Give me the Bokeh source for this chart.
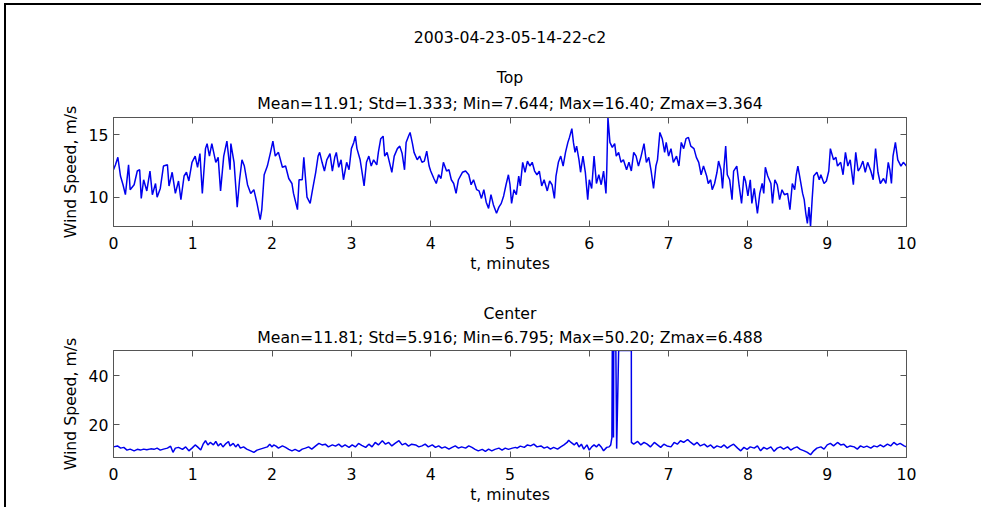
from bokeh.plotting import figure
from bokeh.models import Range1d, FixedTicker, LinearAxis, Title, ColumnDataSource, Spacer
from bokeh.layouts import column, row
from bokeh.embed import file_html
from bokeh.resources import INLINE

# ---------------- data ----------------
main_title = "2003-04-23-05-14-22-c2"
top_title = "Top"
top_stats = "Mean=11.91; Std=1.333; Min=7.644; Max=16.40; Zmax=3.364"
ctr_title = "Center"
ctr_stats = "Mean=11.81; Std=5.916; Min=6.795; Max=50.20; Zmax=6.488"
x_label = "t, minutes"
y_label = "Wind Speed, m/s"
x_ticks = [0, 1, 2, 3, 4, 5, 6, 7, 8, 9, 10]
top_yticks = [10, 15]
ctr_yticks = [20, 40]
top_yrange = [7.644, 16.40]
ctr_yrange = [6.795, 50.20]

top_t = [0.00, 0.025, 0.055, 0.088, 0.12, 0.15, 0.19, 0.21, 0.26, 0.30, 0.33, 0.35, 0.38, 0.42, 0.46, 0.49,
         0.53, 0.55, 0.59, 0.63, 0.68, 0.70, 0.74, 0.78, 0.82, 0.85, 0.89, 0.92, 0.95, 0.99, 1.03, 1.06,
         1.09, 1.12, 1.16, 1.18, 1.21, 1.24, 1.29, 1.32, 1.35, 1.39, 1.43, 1.47, 1.48, 1.52, 1.56, 1.59,
         1.62, 1.65, 1.69, 1.73, 1.77, 1.81, 1.85, 1.87, 1.90, 1.94, 1.98, 2.01, 2.04, 2.08, 2.13, 2.17,
         2.21, 2.25, 2.27, 2.32, 2.34, 2.38, 2.40, 2.44, 2.48, 2.51,
         2.55, 2.58, 2.60, 2.63, 2.66, 2.69, 2.73, 2.76, 2.79, 2.81, 2.84, 2.87, 2.90, 2.94, 2.97, 3.00,
         3.03, 3.05, 3.07, 3.11, 3.13, 3.16, 3.19, 3.22, 3.25, 3.28, 3.32, 3.34, 3.37, 3.40, 3.42, 3.45,
         3.48, 3.51, 3.54, 3.58, 3.61, 3.64, 3.67, 3.69, 3.72, 3.74, 3.77, 3.79, 3.83, 3.86, 3.89, 3.92,
         3.95, 3.98, 4.00, 4.04, 4.07, 4.10, 4.13, 4.16, 4.20, 4.23, 4.26, 4.29, 4.32, 4.35, 4.40, 4.44,
         4.48, 4.51, 4.54, 4.58, 4.61, 4.64, 4.67, 4.70, 4.73, 4.76, 4.79, 4.83, 4.86, 4.89, 4.92, 4.95, 4.98,
         5.00, 5.02, 5.05, 5.08, 5.11, 5.13, 5.16, 5.19, 5.22, 5.25, 5.28, 5.31, 5.34, 5.37, 5.40, 5.43,
         5.47, 5.50, 5.53, 5.56, 5.58, 5.61, 5.64, 5.67, 5.70, 5.73, 5.75, 5.78, 5.80, 5.82, 5.84, 5.87,
         5.89, 5.92, 5.95, 5.98, 6.00, 6.03, 6.06, 6.09, 6.12, 6.15, 6.18, 6.21, 6.22, 6.235, 6.26, 6.29,
         6.32, 6.34, 6.37, 6.40, 6.43, 6.47, 6.50, 6.53, 6.56, 6.59, 6.62, 6.65, 6.69, 6.72, 6.75, 6.78,
         6.81, 6.84, 6.86, 6.89, 6.92, 6.95, 6.97, 7.00, 7.03, 7.06, 7.10, 7.13, 7.16, 7.19, 7.22, 7.25,
         7.28, 7.32, 7.35, 7.38, 7.41, 7.44, 7.48, 7.50,
         7.53, 7.55, 7.58, 7.61, 7.63, 7.66, 7.68, 7.70, 7.72, 7.74, 7.77, 7.80, 7.82, 7.86, 7.89, 7.92,
         7.95, 7.97, 8.00, 8.03, 8.05, 8.08, 8.12, 8.15, 8.18, 8.20, 8.22, 8.25, 8.29, 8.31, 8.34, 8.37,
         8.40, 8.43, 8.46, 8.50, 8.53, 8.56, 8.59, 8.61, 8.63, 8.66, 8.69, 8.71, 8.73, 8.75, 8.77, 8.79,
         8.81, 8.83, 8.87, 8.90, 8.92, 8.96, 8.99, 9.02, 9.04, 9.08, 9.11, 9.13, 9.17, 9.20, 9.23, 9.26,
         9.29, 9.33, 9.36, 9.39, 9.42, 9.45, 9.48, 9.51, 9.55, 9.58, 9.61, 9.64, 9.67, 9.71, 9.74, 9.77,
         9.79, 9.81, 9.83, 9.86, 9.89, 9.93, 9.96, 10.00]
top_v = [12.2, 12.6, 13.2, 11.7, 11.0, 10.2, 12.6, 10.6, 11.0, 12.1, 12.2, 9.9, 11.4, 10.5, 12.1, 10.2,
         11.1, 10.0, 10.7, 12.5, 12.6, 10.9, 12.0, 10.3, 11.3, 9.8, 11.7, 12.0, 11.3, 12.8, 13.3, 12.4,
         13.5, 10.3, 13.9, 14.3, 13.3, 14.3, 12.8, 13.2, 10.5, 13.3, 14.5, 12.2, 14.3, 12.8, 9.2, 11.4,
         13.0, 12.5, 11.0, 10.3, 10.6, 9.5, 8.2, 9.0, 11.8, 12.5, 13.6, 14.5, 13.3, 13.6, 12.4, 12.5,
         11.5, 11.1, 10.3, 9.0, 11.4, 11.4, 13.2, 10.0, 9.5, 10.6,
         12.0, 13.3, 13.6, 12.8, 12.1, 13.0, 13.5, 12.1, 13.2, 13.6, 12.4, 13.0, 11.4, 12.8, 12.2, 13.9,
         14.4, 14.9, 13.9, 13.0, 12.2, 10.9, 12.8, 13.3, 12.5, 13.0, 12.6, 13.6, 14.7, 14.9, 13.3, 13.6,
         12.8, 12.0, 13.3, 13.9, 14.1, 13.5, 12.2, 14.4, 14.9, 15.2, 14.3, 13.6, 13.0, 13.3, 12.8, 12.9,
         13.7, 12.5, 12.1, 11.5, 11.1, 11.8, 11.5, 12.8, 12.1, 12.2, 11.4, 11.1, 10.3, 11.4, 12.0, 12.1,
         11.8, 11.0, 11.4, 10.6, 10.5, 9.9, 10.6, 9.6, 9.1, 10.2, 9.4, 8.7, 9.2, 9.5, 10.1, 11.0, 11.8,
         11.0, 9.5, 10.6, 10.2, 11.7, 10.9, 12.8, 12.0, 12.9, 12.5, 12.8, 12.1, 11.8, 12.1, 10.9, 11.4,
         10.5, 11.3, 11.0, 9.9, 11.7, 12.8, 13.3, 12.5, 13.6, 14.4, 14.8, 15.5, 14.4, 13.6, 14.1, 13.0,
         12.0, 13.3, 12.0, 9.8, 11.4, 10.7, 13.3, 11.1, 11.8, 11.0, 12.1, 10.3, 12.1, 16.40, 14.4, 14.0,
         14.3, 13.3, 13.6, 12.8, 13.0, 12.2, 12.8, 12.1, 13.6, 13.3, 12.5, 13.2, 14.3, 12.8, 13.2, 12.1,
         10.7, 12.5, 13.0, 15.2, 14.7, 13.6, 14.4, 13.3, 13.9, 12.8, 13.3, 12.5, 14.4, 13.9, 14.7, 14.8,
         14.1, 13.9, 13.2, 12.8, 11.8, 12.5, 11.7, 11.1,
         11.4, 10.6, 11.1, 12.0, 12.9, 12.2, 10.7, 12.5, 14.1, 11.8, 11.4, 9.8, 12.1, 12.5, 10.9, 9.5,
         11.7, 11.3, 10.1, 11.4, 9.5, 10.7, 8.7, 10.3, 11.1, 10.3, 12.4, 11.7, 11.1, 9.5, 11.4, 11.0,
         9.8, 10.6, 10.2, 10.3, 9.0, 11.1, 10.6, 11.8, 12.5, 11.4, 10.3, 9.8, 8.7, 7.9, 9.2, 7.644,
         9.8, 11.7, 12.0, 11.4, 11.8, 11.1, 11.3, 12.1, 13.9, 13.0, 13.2, 12.5, 12.8, 11.8, 13.6, 12.5,
         13.0, 11.0, 13.6, 12.1, 12.4, 12.9, 12.0, 12.8, 12.1, 11.4, 13.9, 12.0, 11.1, 11.5, 11.1, 12.8,
         12.2, 11.1, 13.3, 14.4, 13.0, 12.5, 12.8, 12.5]

ctr_t = [0.00, 0.05, 0.09, 0.13, 0.17, 0.21, 0.26, 0.30, 0.34, 0.38, 0.42, 0.47, 0.51, 0.55, 0.59, 0.63,
         0.68, 0.72, 0.75, 0.78, 0.82, 0.87, 0.91, 0.95, 0.99, 1.03, 1.06, 1.10, 1.13, 1.16, 1.19, 1.22,
         1.26, 1.29, 1.32, 1.35, 1.38, 1.41, 1.45, 1.47, 1.51, 1.54, 1.57, 1.60, 1.64, 1.68, 1.73, 1.77,
         1.81, 1.85, 1.89, 1.94, 1.97, 2.00, 2.02, 2.05, 2.08, 2.13, 2.17, 2.21, 2.25, 2.29, 2.34, 2.38,
         2.42, 2.46, 2.50, 2.55, 2.59, 2.63, 2.67, 2.71, 2.76, 2.80, 2.84, 2.88, 2.92, 2.97, 3.01, 3.05,
         3.09, 3.13, 3.18, 3.22, 3.26, 3.30, 3.34, 3.39, 3.43, 3.47, 3.51, 3.55, 3.60, 3.64, 3.68, 3.72,
         3.76, 3.81, 3.85, 3.89, 3.93, 3.97, 4.02, 4.06, 4.10, 4.14, 4.18, 4.23, 4.27, 4.31, 4.35, 4.39,
         4.44, 4.48, 4.52, 4.56, 4.60, 4.65, 4.69, 4.73, 4.77, 4.81, 4.86, 4.90, 4.94, 4.98, 5.03, 5.07,
         5.09, 5.13, 5.18, 5.22, 5.26, 5.30, 5.34, 5.39, 5.43, 5.47, 5.51, 5.55, 5.60, 5.64, 5.68, 5.72,
         5.74, 5.77, 5.81, 5.84, 5.87, 5.90, 5.93, 5.97, 6.00, 6.03, 6.06, 6.09, 6.12, 6.15, 6.18, 6.22,
         6.25, 6.27, 6.285, 6.29, 6.30, 6.305, 6.308, 6.335, 6.345, 6.37, 6.53, 6.531,
         6.56, 6.61, 6.65, 6.69, 6.73, 6.77, 6.82, 6.86, 6.90, 6.94, 6.98, 7.03, 7.07, 7.11, 7.15, 7.19,
         7.24, 7.28, 7.32, 7.36, 7.40, 7.45, 7.49, 7.53, 7.57, 7.61, 7.66, 7.70, 7.74, 7.78, 7.82, 7.87,
         7.91, 7.95, 7.99, 8.03, 8.08, 8.12, 8.16, 8.20, 8.24, 8.29, 8.33, 8.37, 8.41, 8.45, 8.50, 8.54,
         8.58, 8.62, 8.66, 8.71, 8.75, 8.79, 8.83, 8.87, 8.92, 8.96, 9.00, 9.04, 9.08, 9.13, 9.17, 9.21,
         9.25, 9.29, 9.34, 9.38, 9.42, 9.46, 9.50, 9.55, 9.59, 9.63, 9.67, 9.71, 9.76, 9.80, 9.84, 9.88,
         9.92, 9.97, 10.00]
ctr_v = [11.1, 11.5, 10.6, 10.9, 9.8, 10.2, 9.5, 10.1, 9.8, 10.2, 9.9, 10.3, 10.1, 10.6, 9.8, 10.2,
         10.6, 11.4, 8.9, 10.6, 10.9, 10.1, 11.1, 9.5, 10.6, 11.9, 11.1, 9.8, 12.2, 13.6, 11.9, 12.9,
         11.9, 13.3, 11.5, 12.5, 11.1, 12.2, 13.3, 11.5, 12.5, 11.1, 12.2, 10.6, 11.1, 10.2, 9.5, 8.9,
         9.8, 10.2, 10.6, 11.1, 12.2, 11.1, 11.9, 11.4, 10.6, 11.5, 10.9, 10.1, 9.5, 10.1, 9.3, 10.2,
         10.6, 11.1, 10.2, 11.5, 12.5, 11.9, 12.2, 11.1, 11.9, 11.4, 12.2, 11.1, 11.9, 10.9, 11.9, 11.1,
         12.5, 11.7, 10.9, 12.2, 11.1, 12.9, 11.9, 13.6, 12.2, 12.9, 11.5, 12.5, 13.6, 11.9, 12.5, 11.4,
         12.2, 11.9, 11.1, 11.5, 12.2, 11.1, 11.9, 10.9, 11.5, 10.6, 11.1, 10.2, 10.9, 11.5, 10.6, 11.1,
         10.6, 11.5, 10.9, 10.1, 9.5, 10.1, 9.3, 10.2, 9.5, 10.1, 10.6, 9.8, 10.6, 10.1, 10.6, 10.9,
         10.6, 11.4, 10.9, 11.9, 11.5, 12.2, 11.1, 11.5, 10.6, 11.1, 10.2, 10.9, 10.2, 11.1, 11.9, 12.9,
         13.8, 12.9, 11.9, 12.9, 11.1, 12.2, 10.2, 11.9, 9.8, 11.1, 11.9, 11.1, 12.2, 11.1, 9.5, 10.9,
         11.1, 11.9, 14.9, 50.2, 50.2, 14.9, 50.2, 50.2, 10.4, 50.2, 50.2, 12.9,
         12.2, 13.3, 11.9, 12.9, 12.2, 11.1, 12.9, 11.9, 10.9, 12.2, 11.5, 11.1, 12.9, 12.2, 13.6, 12.9,
         14.1, 12.9, 11.9, 12.9, 11.5, 12.2, 11.1, 11.9, 10.6, 11.5, 10.9, 11.9, 10.6, 11.5, 12.2, 10.6,
         9.5, 10.9, 10.1, 11.1, 10.6, 11.5, 9.5, 10.9, 10.2, 11.1, 9.3, 10.6, 11.1, 10.2, 11.1, 9.8,
         10.6, 11.1, 10.1, 9.5, 8.9, 7.9, 9.5, 10.6, 11.1, 10.2, 11.9, 12.5, 11.5, 12.9, 11.9, 12.2,
         10.9, 11.5, 11.1, 10.2, 11.5, 10.9, 11.4, 10.6, 11.5, 11.1, 11.9, 11.1, 12.2, 11.5, 12.9, 11.9,
         12.5, 11.5, 11.1]

# ---------------- styling ----------------
FONT = "DejaVu Sans"
FS = "15.7px"
AX = "#555555"
LINE = "#0000ee"
CW = 975           # width of the plot column (window x 6..981)
RB = 75            # right border so that the frame ends at window x 906


def style_axis(ax):
    ax.axis_line_color = AX
    ax.major_tick_line_color = AX
    ax.minor_tick_line_color = AX
    ax.major_tick_in = 6
    ax.major_tick_out = 0
    ax.minor_tick_in = 6
    ax.minor_tick_out = 0
    ax.major_label_text_font = FONT
    ax.major_label_text_font_size = FS
    ax.major_label_text_color = "black"
    ax.axis_label_text_font = FONT
    ax.axis_label_text_font_size = FS
    ax.axis_label_text_font_style = "normal"
    ax.axis_label_text_color = "black"


def add_title(p, text, standoff, offset=0):
    p.add_layout(Title(text=text, align="center", text_font=FONT, text_font_size=FS,
                       text_font_style="normal", text_color="black",
                       standoff=standoff, offset=offset), "above")


def make_panel(height, b_top, b_bottom, yr, yticks, t, v, lw, title, stats, st_title, st_stats):
    p = figure(width=CW, height=height, x_range=Range1d(0, 10), y_range=Range1d(yr[0], yr[1]),
               output_backend="svg", toolbar_location=None,
               min_border_left=107, min_border_right=RB,
               min_border_top=b_top, min_border_bottom=b_bottom,
               x_axis_label=x_label, y_axis_label=y_label)
    p.background_fill_color = "white"
    p.border_fill_color = "white"
    p.outline_line_color = AX
    p.outline_line_width = 1
    p.grid.visible = False
    p.xaxis.ticker = FixedTicker(ticks=x_ticks)
    p.yaxis.ticker = FixedTicker(ticks=yticks)
    for ax in p.xaxis + p.yaxis:
        style_axis(ax)
    p.xaxis.major_label_standoff = 10
    p.xaxis.axis_label_standoff = 2
    p.yaxis.major_label_standoff = 5
    p.yaxis.axis_label_standoff = 6

    # top and right axes: tick marks only (minor ticks carry no labels)
    top_ax = LinearAxis(ticker=FixedTicker(ticks=[], minor_ticks=x_ticks))
    right_ax = LinearAxis(ticker=FixedTicker(ticks=[], minor_ticks=yticks))
    style_axis(top_ax)
    style_axis(right_ax)
    p.add_layout(top_ax, "above")
    p.add_layout(right_ax, "right")

    add_title(p, stats, st_stats)
    add_title(p, title, st_title)

    src = ColumnDataSource(dict(t=t, v=v))
    p.line("t", "v", source=src, line_color=LINE, line_width=lw)
    return p


# window layout: frame strip x 0..6 (black at 4..6), plots x 6..981
# y: 0..3 white, 3..5 black line, p1 y 5..280 (frame 117..226), p2 y 280..507 (frame 350..457)
p1 = make_panel(275, 112, 54, top_yrange, top_yticks, top_t, top_v, 1.5, top_title, top_stats, 0, 10)
add_title(p1, main_title, 38, -19.5)
p2 = make_panel(227, 70, 50, ctr_yrange, ctr_yticks, ctr_t, ctr_v, 1.5, ctr_title, ctr_stats, 0, 7)

left_col = column(Spacer(width=6, height=3),
                  row(Spacer(width=4, height=504),
                      Spacer(width=2, height=504, styles={"background-color": "black"})))
right_col = column(Spacer(width=CW, height=3),
                   Spacer(width=CW, height=2, styles={"background-color": "black"}),
                   p1, p2)
layout = row(left_col, right_col)

open("out.html", "w").write(file_html(layout, INLINE))
